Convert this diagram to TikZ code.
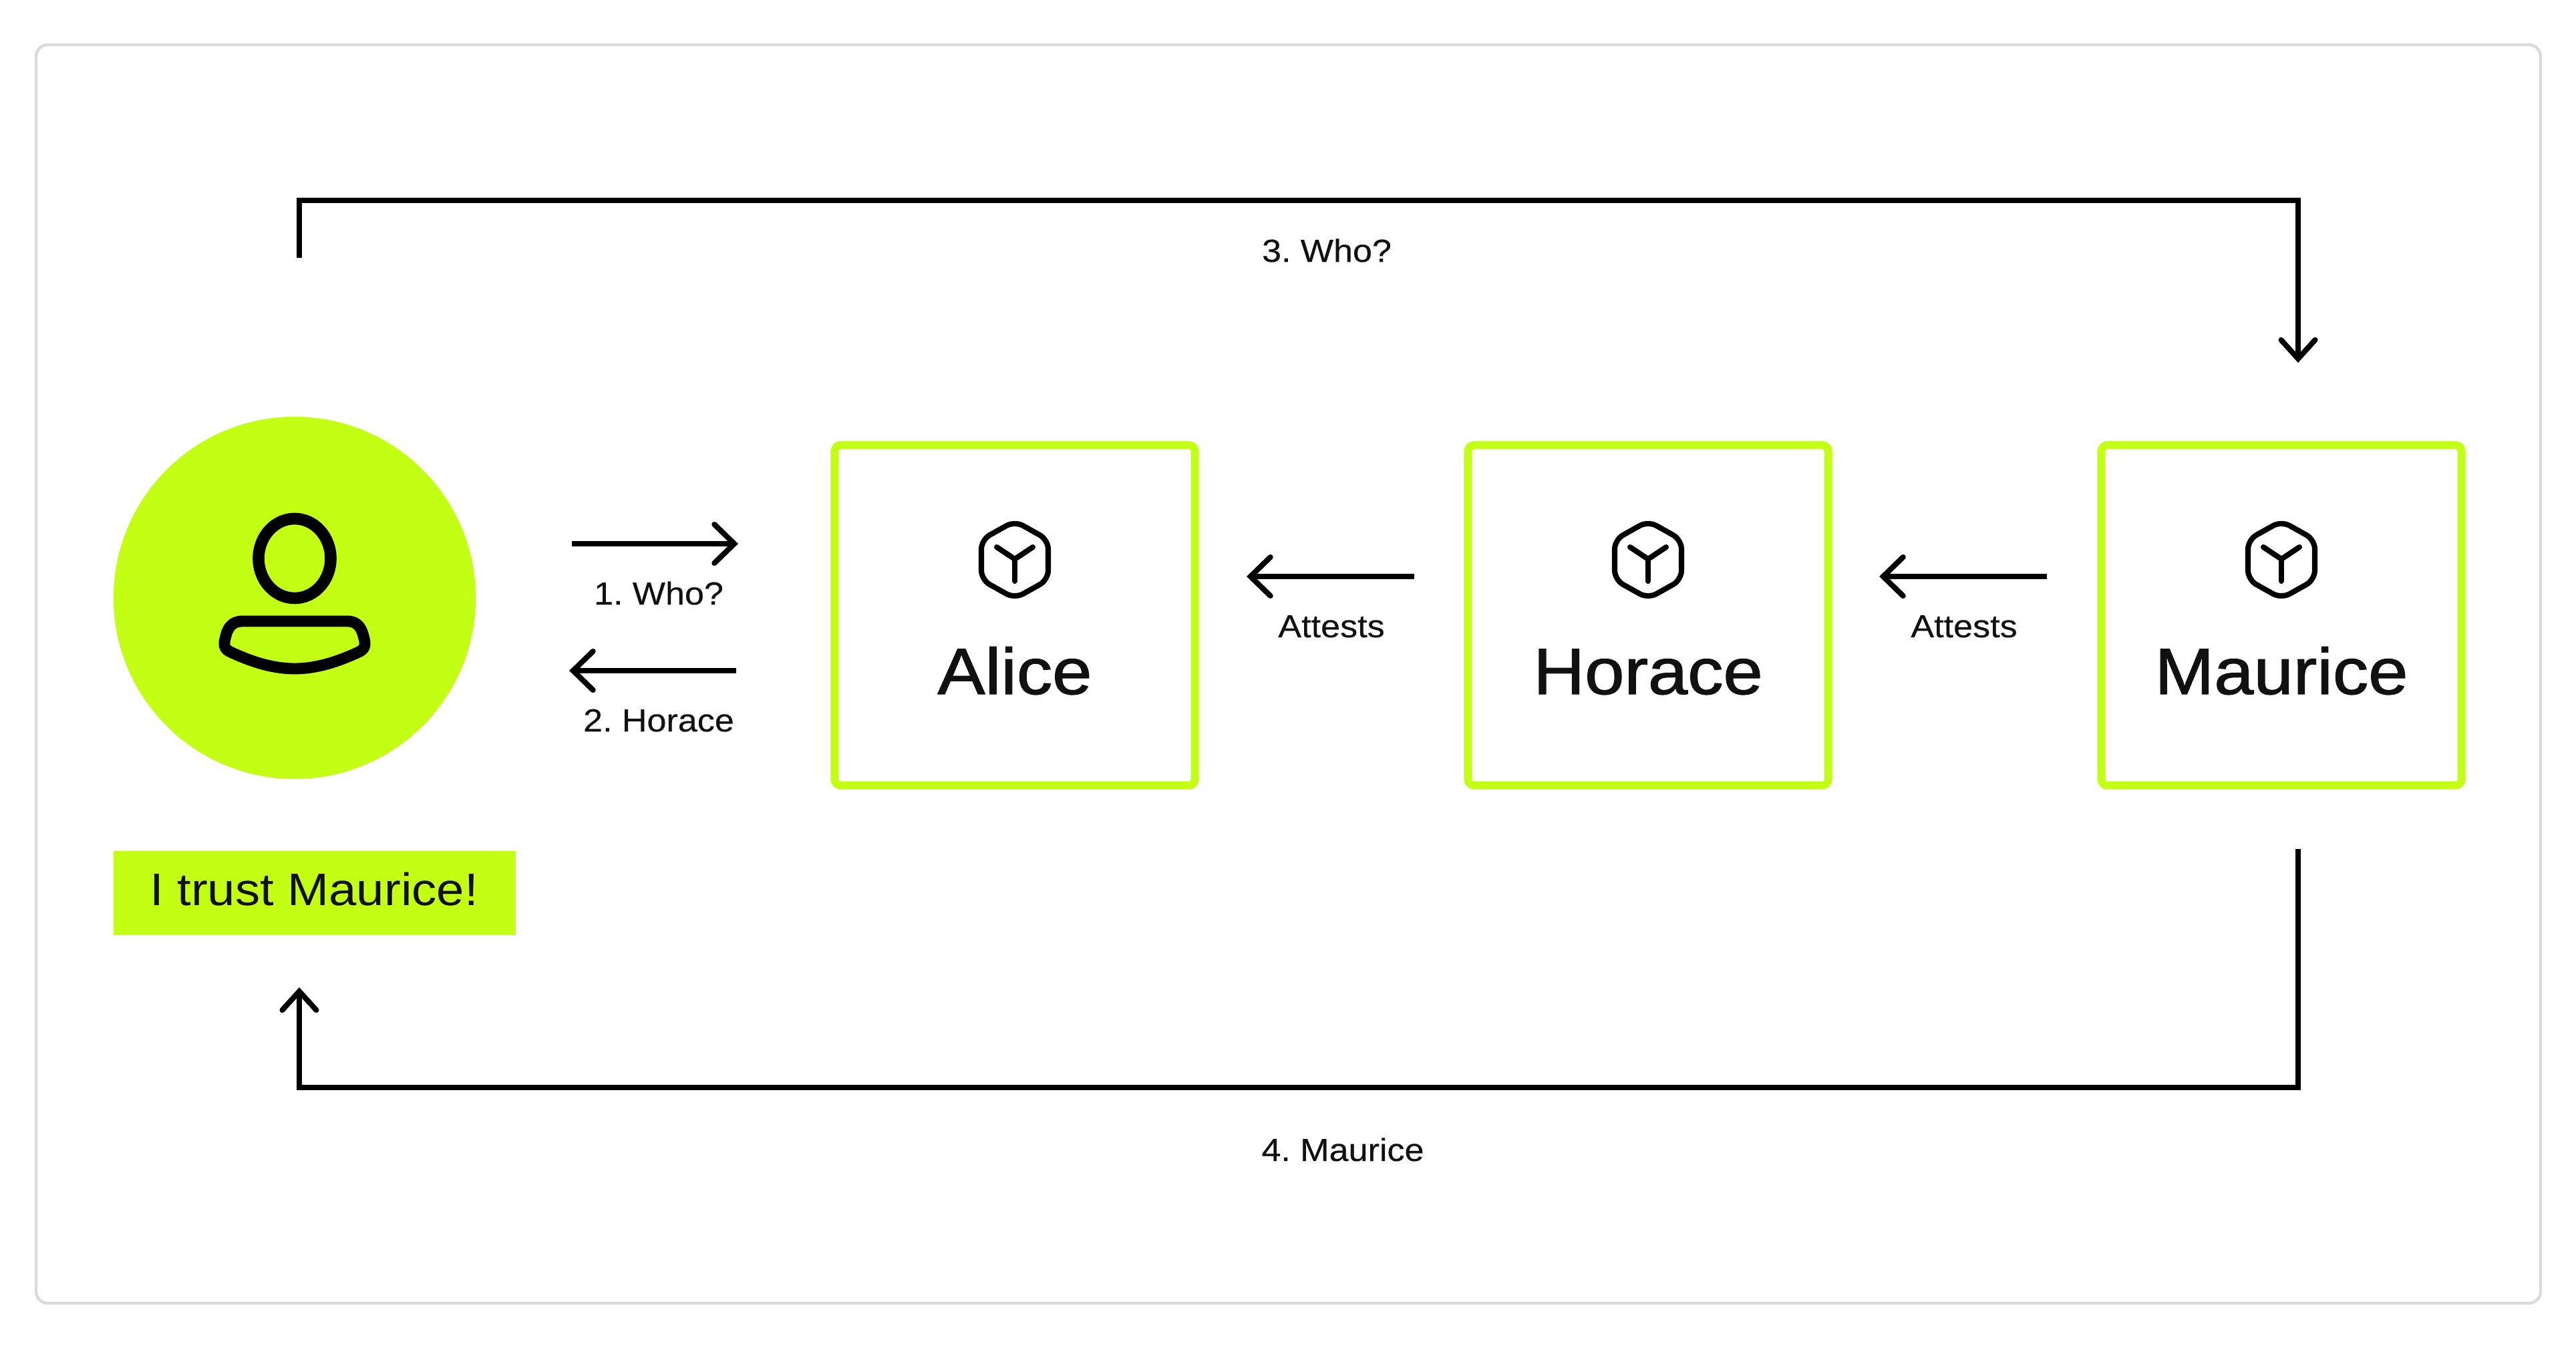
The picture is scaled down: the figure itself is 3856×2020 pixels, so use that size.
\documentclass[tikz,border=0pt]{standalone}
\usepackage{fontspec}
\usepackage{color}
\usetikzlibrary{arrows.meta}

\newfontfamily\plainfont[FakeStretch=1.09]{Liberation Sans}
\newfontfamily\smallfont[FakeStretch=1.09,FakeBold=0.3,WordSpace=0.65]{Liberation Sans}
\newfontfamily\namefont[FakeStretch=1.09,FakeBold=1.3]{Liberation Sans}
\definecolor{lime}{HTML}{C2FF14}
\definecolor{ink}{HTML}{111111}
\definecolor{framegrey}{HTML}{DADADA}

\tikzset{
    cubeicon/.pic={
        \draw[black, line width=2.3pt, rounded corners=4pt] (0, -58) -- (50, -30) -- (50, 30) -- (0, 58) -- (-50, 30) -- (-50, -30) -- cycle;
        \draw[black, line width=2.3pt, line cap=round, line join=round] (-27, -19) -- (0, -1) -- (27, -19);
        \draw[black, line width=2.3pt, line cap=round] (0, -1) -- (0, 32);
    },
    peerbox/.style={draw=lime, line width=3.4pt, rounded corners=2.6pt, minimum width=5.39cm, minimum height=5.09cm, inner sep=0},
    peername/.style={anchor=base, inner sep=0, text=ink, font=\namefont\fontsize{27.8}{30}\selectfont},
    smalllabel/.style={anchor=base, inner sep=0, text=ink, font=\smallfont\fontsize{13.6}{15}\selectfont},
    flow/.style={draw=black, line width=2.3pt, -{Straight Barb[length=8.5pt, width=16.5pt, line cap=round]}},
    longflow/.style={draw=black, line width=2.3pt, -{Straight Barb[length=8pt, width=14.5pt, line cap=round]}}
}

\begin{document}
\begin{tikzpicture}[x=0.01cm, y=-0.01cm]
    \useasboundingbox (0, 0) rectangle (3856, 2020);
    \fill[white] (0, 0) rectangle (3856, 2020);
    \draw[framegrey, line width=1.2pt, rounded corners=5pt] (54, 67) rectangle (3803, 1951);

    % user on the left
    \node[circle, fill=lime, minimum size=5.42cm, inner sep=0] (user) at (441, 895) {};
    \draw[black, line width=5pt] (441, 836) ellipse [x radius=54, y radius=59.5];
    \draw[black, line width=4.8pt, line join=round] (363, 930) -- (520, 930) .. controls (535, 930) and (541, 940) .. (544, 952) .. controls (548, 966) and (547, 972) .. (535, 977) .. controls (500, 993) and (470, 1001) .. (441, 1001) .. controls (412, 1001) and (382, 993) .. (347, 977) .. controls (335, 972) and (334, 966) .. (338, 952) .. controls (341, 940) and (347, 930) .. (363, 930) -- cycle;
    \node[fill=lime, minimum width=6.02cm, minimum height=1.26cm, inner sep=0] (trustbox) at (471, 1337) {};
    \node[anchor=base, inner sep=0, text=ink, font=\plainfont\fontsize{19.4}{22}\selectfont] (trust) at (470, 1355) {I trust Maurice!};

    % the three boxes
    \node[peerbox] (alice) at (1519, 921) {};
    \node[peerbox] (horace) at (2467, 921) {};
    \node[peerbox] (maurice) at (3415, 921) {};
    \node[peername] (alicename) at (1519, 1039) {Alice};
    \node[peername] (horacename) at (2467, 1039) {Horace};
    \node[peername] (mauricename) at (3415, 1039) {Maurice};
    \pic at (1519, 838) {cubeicon};
    \pic at (2467, 838) {cubeicon};
    \pic at (3415, 838) {cubeicon};

    % free ends of the arrows
    \coordinate (whostart) at (856, 814);
    \coordinate (whoend) at (1105, 814);
    \coordinate (horstart) at (1102, 1004);
    \coordinate (horend) at (852, 1004);
    \coordinate (attAstart) at (2117, 863);
    \coordinate (attAend) at (1866, 863);
    \coordinate (attBstart) at (3064, 863);
    \coordinate (attBend) at (2813, 863);
    \coordinate (topstart) at (448, 386);
    \coordinate (topend) at (3440, 543);
    \coordinate (botstart) at (3440, 1271);
    \coordinate (botend) at (448, 1478);

    \draw[flow] (whostart) -- (whoend);
    \draw[flow] (horstart) -- (horend);
    \draw[flow] (attAstart) -- (attAend);
    \draw[flow] (attBstart) -- (attBend);
    \draw[longflow] (topstart) -- (448, 300) -- (3440, 300) -- (topend);
    \draw[longflow] (botstart) -- (3440, 1628) -- (448, 1628) -- (botend);

    \node[smalllabel] (who) at (986, 905) {1. Who?};
    \node[smalllabel] (hor) at (986, 1095) {2. Horace};
    \node[smalllabel] (attA) at (1993, 954) {Attests};
    \node[smalllabel] (attB) at (2940, 954) {Attests};
    \node[smalllabel] (whoagain) at (1986, 392) {3. Who?};
    \node[smalllabel] (mau) at (2010, 1738) {4. Maurice};
\end{tikzpicture}
\end{document}
